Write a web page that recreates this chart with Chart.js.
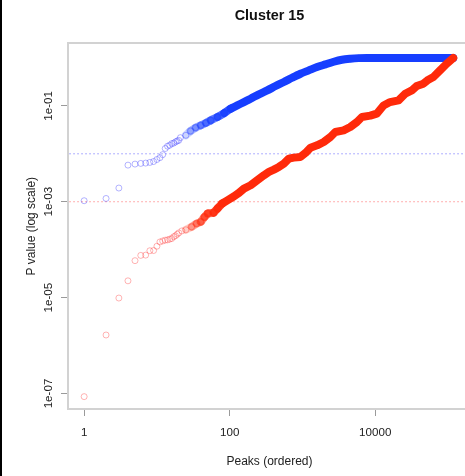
<!DOCTYPE html>
<html>
<head>
<meta charset="utf-8">
<script src="https://cdn.jsdelivr.net/npm/chart.js@4/dist/chart.umd.min.js"></script>
<style>
  html, body { margin: 0; padding: 0; background: #fff; overflow: hidden; }
  #wrap { position: relative; width: 465px; height: 476px; overflow: hidden; }
  #edge { position: absolute; left: 0; top: 0; width: 2px; height: 476px; background: #000; }
</style>
</head>
<body>
<div id="wrap">
  <canvas id="clusterChart" width="480" height="476"></canvas>
  <div id="edge"></div>
</div>
<script>
// values (rank of peak, p value)
const blueRanks = [1, 2, 3, 4, 5, 6, 7, 8, 9, 10, 11, 12, 13, 14, 15, 16, 17, 18, 19, 20,
  21, 25, 29, 34, 40, 47, 55, 68, 84, 103, 127, 157, 194, 252, 328, 427, 555, 722, 939,
  1220, 1589, 2070, 2690, 3490, 4540, 5910, 7690, 20000, 50000, 118000];
const bluePvals = [1.05e-3, 1.17e-3, 1.93e-3, 5.8e-3, 6.1e-3, 6.3e-3, 6.4e-3, 6.6e-3, 6.9e-3, 7.6e-3,
  8.3e-3, 9.6e-3, 1.29e-2, 1.44e-2, 1.51e-2, 1.63e-2, 1.67e-2, 1.77e-2, 1.85e-2, 1.91e-2,
  2.17e-2, 2.43e-2, 2.99e-2, 3.51e-2, 3.92e-2, 4.39e-2, 4.99e-2, 5.85e-2, 7.09e-2, 8.73e-2,
  0.102, 0.120, 0.141, 0.174, 0.210, 0.259, 0.314, 0.386, 0.468, 0.549, 0.644, 0.732,
  0.832, 0.916, 0.961, 0.99, 1, 1, 1, 1];

const redRanks = [1, 2, 3, 4, 5, 6, 7, 8, 9, 10, 11, 12, 13, 14, 15, 16, 17, 18, 19, 20,
  22, 25, 30, 35, 40, 45, 50, 60, 68, 79, 93, 115, 134, 157, 194, 239, 295, 346, 405, 474,
  555, 650, 761, 939, 1100, 1288, 1589, 1960, 2420, 2830, 3680, 4540, 5610, 6570, 8550,
  10500, 13000, 16000, 20900, 25800, 31800, 37200, 45900, 53800, 63000, 77700, 95900, 118000];
const redPvals = [8.6e-8, 1.66e-6, 9.8e-6, 2.24e-5, 5.9e-5, 7.6e-5, 7.7e-5, 9.5e-5, 9.6e-5, 1.18e-4,
  1.45e-4, 1.52e-4, 1.58e-4, 1.6e-4, 1.66e-4, 1.71e-4, 1.86e-4, 1.95e-4, 2.1e-4, 2.24e-4,
  2.46e-4, 2.6e-4, 3.0e-4, 3.5e-4, 3.8e-4, 4.8e-4, 5.7e-4, 5.9e-4, 7.2e-4, 9.2e-4, 1.07e-3,
  1.30e-3, 1.53e-3, 1.88e-3, 2.21e-3, 2.81e-3, 3.56e-3, 4.18e-3, 4.68e-3, 5.32e-3, 6.24e-3,
  7.93e-3, 8.32e-3, 8.59e-3, 1.04e-2, 1.34e-2, 1.50e-2, 1.76e-2, 2.24e-2, 2.85e-2, 3.09e-2,
  3.62e-2, 4.61e-2, 5.85e-2, 6.24e-2, 6.87e-2, 0.102, 0.120, 0.130, 0.179, 0.210, 0.259,
  0.290, 0.351, 0.399, 0.549, 0.756, 1.0];

// dotted threshold lines
const thresholds = [0.01, 0.001];

const xTickValues = [1, 100, 10000];
const xTickLabels = ['1', '100', '10000'];
const yTickValues = [1e-7, 1e-5, 1e-3, 1e-1];
const yTickLabels = ['1e-07', '1e-05', '1e-03', '1e-01'];

const X_MIN = 0.625, X_MAX = 207000;
const Y_MIN = 4.75e-8, Y_MAX = 2.0;

const FONT = 'Liberation Sans, Arial, Helvetica, sans-serif';
const BOX = '#d2d2d2';
const TICK = '#9a9a9a';

function toPoints(ranks, pvals, fromRank) {
    const pts = [];
    for (let i = 0; i < ranks.length; i++) {
        if (ranks[i] >= (fromRank || 0)) pts.push({ x: ranks[i], y: pvals[i] });
    }
    return pts;
}

// band colour fades in where the circles start to pile up
function bandColor(rgb, from, to) {
    return ctx => {
        const r = ctx.p0.parsed.x;
        let t = (Math.log10(r) - Math.log10(from)) / (Math.log10(to) - Math.log10(from));
        t = Math.max(0, Math.min(1, t));
        if (t >= 1) return 'rgb(' + rgb + ')';
        return 'rgba(' + rgb + ',' + (0.22 + 0.7 * t).toFixed(2) + ')';
    };
}

const BLUE = '22,62,255';
const RED = '255,42,10';

const ctx = document.getElementById('clusterChart');
const chart = new Chart(ctx, {
    type: 'scatter',
    data: {
        datasets: [
            {
                label: 'red band',
                data: toPoints(redRanks, redPvals, 25),
                showLine: true,
                pointRadius: 0,
                borderWidth: 8,
                borderCapStyle: 'round',
                borderJoinStyle: 'round',
                borderColor: 'rgb(' + RED + ')',
                segment: { borderColor: bandColor(RED, 25, 70) },
                tension: 0,
                order: 1
            },
            {
                label: 'red',
                data: toPoints(redRanks, redPvals),
                pointRadius: 3,
                pointBorderWidth: 1,
                pointBackgroundColor: 'rgba(0,0,0,0)',
                pointBorderColor: 'rgba(255,40,40,0.35)',
                order: 2
            },
            {
                label: 'blue band',
                data: toPoints(blueRanks, bluePvals, 25),
                showLine: true,
                pointRadius: 0,
                borderWidth: 8,
                borderCapStyle: 'round',
                borderJoinStyle: 'round',
                borderColor: 'rgb(' + BLUE + ')',
                segment: { borderColor: bandColor(BLUE, 25, 90) },
                tension: 0.3,
                order: 3
            },
            {
                label: 'blue',
                data: toPoints(blueRanks, bluePvals),
                pointRadius: 3,
                pointBorderWidth: 1,
                pointBackgroundColor: 'rgba(0,0,0,0)',
                pointBorderColor: 'rgba(40,40,255,0.35)',
                order: 4
            },
            {
                label: 'blue cut',
                data: [{ x: X_MIN, y: thresholds[0] }, { x: X_MAX, y: thresholds[0] }],
                showLine: true,
                pointRadius: 0,
                borderWidth: 1,
                borderDash: [1.5, 2.5],
                borderColor: 'rgba(130,130,255,0.85)',
                order: 5
            },
            {
                label: 'red cut',
                data: [{ x: X_MIN, y: thresholds[1] }, { x: X_MAX, y: thresholds[1] }],
                showLine: true,
                pointRadius: 0,
                borderWidth: 1,
                borderDash: [1.5, 2.5],
                borderColor: 'rgba(255,130,130,0.85)',
                order: 6
            }
        ]
    },
    options: {
        responsive: false,
        animation: false,
        events: [],
        layout: { padding: { top: 0, left: 0, right: 9, bottom: 0 } },
        plugins: {
            legend: { display: false },
            tooltip: { enabled: false },
            title: {
                display: true,
                fullSize: false,
                text: 'Cluster 15',
                color: '#111',
                font: { family: FONT, size: 14.4, weight: 'bold', lineHeight: 1.2 },
                padding: { top: 7, bottom: 19.2 }
            }
        },
        scales: {
            x: {
                type: 'logarithmic',
                position: 'bottom',
                min: X_MIN,
                max: X_MAX,
                afterFit: s => { s.height = 67; },
                afterBuildTicks: s => { s.ticks = xTickValues.map(v => ({ value: v })); },
                grid: { drawOnChartArea: false, drawTicks: true, tickLength: 7, color: TICK, lineWidth: 1 },
                border: { display: true, color: BOX, width: 2 },
                ticks: {
                    autoSkip: false,
                    maxRotation: 0,
                    padding: 10,
                    color: '#222',
                    font: { family: FONT, size: 11.6 },
                    callback: (v, i) => xTickLabels[i]
                },
                title: {
                    display: true,
                    text: 'Peaks (ordered)',
                    color: '#222',
                    font: { family: FONT, size: 12, lineHeight: 1.2 },
                    padding: { top: 0, bottom: 6.8 }
                }
            },
            xTop: {
                type: 'logarithmic',
                position: 'top',
                min: X_MIN,
                max: X_MAX,
                afterFit: s => { s.height = 0; },
                grid: { drawOnChartArea: false, drawTicks: false },
                border: { display: true, color: BOX, width: 2 },
                ticks: { display: false }
            },
            y: {
                type: 'logarithmic',
                position: 'left',
                min: Y_MIN,
                max: Y_MAX,
                afterFit: s => { s.width = 68; },
                afterBuildTicks: s => { s.ticks = yTickValues.map(v => ({ value: v })); },
                grid: { drawOnChartArea: false, drawTicks: true, tickLength: 7, color: TICK, lineWidth: 1 },
                border: { display: true, color: BOX, width: 2 },
                ticks: {
                    autoSkip: false,
                    minRotation: 90,
                    maxRotation: 90,
                    crossAlign: 'center',
                    padding: -3,
                    color: '#222',
                    font: { family: FONT, size: 11.6 },
                    callback: (v, i) => yTickLabels[i]
                },
                title: {
                    display: true,
                    text: 'P value (log scale)',
                    color: '#222',
                    font: { family: FONT, size: 12, lineHeight: 1.2 },
                    padding: { top: 24.8, bottom: 0 }
                }
            }
        }
    }
});
</script>
</body>
</html>
